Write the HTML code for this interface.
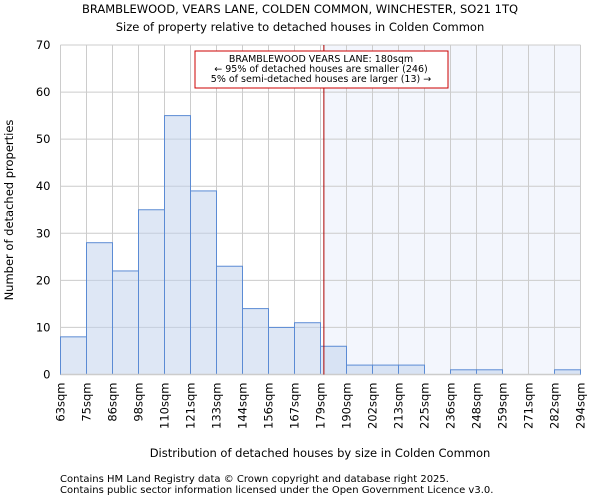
<!DOCTYPE html>
<html><head><meta charset="utf-8"><style>
body{margin:0;background:#fff;font-family:"DejaVu Sans","Liberation Sans",sans-serif}
svg text{font-family:"DejaVu Sans","Liberation Sans",sans-serif;fill:#000}
</style></head><body>
<svg id="c" width="600" height="500" viewBox="0 0 600 500">
<text x="300" y="13" font-size="11.5" text-anchor="middle">BRAMBLEWOOD, VEARS LANE, COLDEN COMMON, WINCHESTER, SO21 1TQ</text>
<text x="300" y="31" font-size="11.5" text-anchor="middle">Size of property relative to detached houses in Colden Common</text>
<g id="plot"></g>
<text x="320" y="457" font-size="11.5" text-anchor="middle">Distribution of detached houses by size in Colden Common</text>
<text transform="translate(13,210) rotate(-90)" font-size="11.5" text-anchor="middle">Number of detached properties</text>
<text x="60" y="482" font-size="10" fill="#333">Contains HM Land Registry data © Crown copyright and database right 2025.</text>
<text x="60" y="493" font-size="10" fill="#333">Contains public sector information licensed under the Open Government Licence v3.0.</text>
</svg>
<script>
const binLabels=["63sqm","75sqm","86sqm","98sqm","110sqm","121sqm","133sqm","144sqm","156sqm","167sqm","179sqm","190sqm","202sqm","213sqm","225sqm","236sqm","248sqm","259sqm","271sqm","282sqm","294sqm"];
const counts=[8,28,22,35,55,39,23,14,10,11,6,2,2,2,0,1,1,0,0,1];
const yTicks=[0,10,20,30,40,50,60,70];
const minSize=63, maxSize=294, propertySize=180;
const L=60.5,R=580.5,T=45,B=374.5,yMax=70;
const NS="http://www.w3.org/2000/svg";
const g=document.getElementById('plot');
const nb=counts.length;
const xb=i=>L+(R-L)*i/nb;
const xs=v=>L+(R-L)*(v-minSize)/(maxSize-minSize);
const y=v=>B-(B-T)*v/yMax;
function mk(t,a){const e=document.createElementNS(NS,t);for(const k in a)e.setAttribute(k,a[k]);g.appendChild(e);return e;}
const px=xs(propertySize);
let e=mk('rect',{x:px,y:T,width:R-px,height:B-T,fill:'#f3f6fd'});


yTicks.forEach(v=>{
 let l=mk('line',{x1:L,x2:R,y1:y(v),y2:y(v),stroke:'#ccc','stroke-width':1});
 
 
 let t=mk('text',{x:L-10,y:y(v)+4,'font-size':11.5,'text-anchor':'end'});
 t.textContent=v;
 
 
});
binLabels.forEach((s,i)=>{
 let l=mk('line',{x1:xb(i),x2:xb(i),y1:T,y2:B,stroke:'#ccc','stroke-width':1});
 
 
 let t=mk('text',{transform:`translate(${xb(i)+4},${B+8}) rotate(-90)`,'font-size':11.5,'text-anchor':'end'});
 t.textContent=s;
 
 
});
counts.forEach((c,i)=>{
 if(c<=0)return;
 let r=mk('rect',{x:xb(i),y:y(c),width:xb(i+1)-xb(i),height:B-y(c),fill:'rgba(190,208,236,0.5)',stroke:'#5b8bd4','stroke-width':1});
 
 
});
let ax=mk('line',{x1:L,x2:R,y1:B,y2:B,stroke:'#ccc','stroke-width':1.5});


let ml=mk('line',{x1:px,x2:px,y1:T,y2:B,stroke:'#a00','stroke-width':1});


let box=mk('rect',{x:195,y:51,width:253,height:37,fill:'#fff',stroke:'#c00','stroke-width':1});


["BRAMBLEWOOD VEARS LANE: 180sqm","← 95% of detached houses are smaller (246)","5% of semi-detached houses are larger (13) →"].forEach((s,i)=>{
 let t=mk('text',{x:321,y:62+i*10,'font-size':9.5,'text-anchor':'middle'});
 t.textContent=s;
 
 
});
</script>
</body></html>
